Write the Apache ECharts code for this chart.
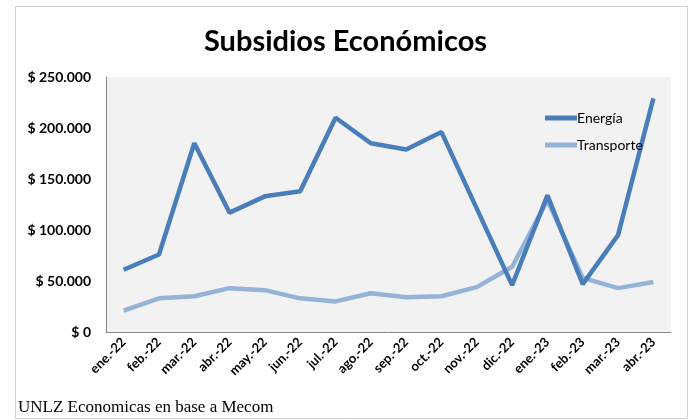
<!DOCTYPE html>
<html lang="es">
<head>
<meta charset="utf-8">
<style>
  html, body { margin: 0; padding: 0; width: 100%; height: 100%; overflow: hidden; background: #fff; }
  #container { width: 691px; height: 420px; }
</style>
<script src="https://cdn.jsdelivr.net/npm/echarts@6/dist/echarts.min.js"></script>
</head>
<body>
<div id="container"></div>
<script>
  // meses
  var months = ['ene.-22', 'feb.-22', 'mar.-22', 'abr.-22', 'may.-22', 'jun.-22', 'jul.-22', 'ago.-22',
    'sep.-22', 'oct.-22', 'nov.-22', 'dic.-22', 'ene.-23', 'feb.-23', 'mar.-23', 'abr.-23'];
  var energia = [61000, 76000, 185000, 117000, 133000, 138000, 210000, 185000,
    179000, 196000, 121000, 46000, 134000, 47000, 95000, 229000];
  var transporte = [21000, 33000, 35000, 43000, 41000, 33000, 30000, 38000,
    34000, 35000, 44000, 64000, 129000, 53000, 43000, 49000];

  var font = 'Lato, "Open Sans", sans-serif';

  function money(v) {
    if (v === 0) return '$ 0';
    return '$ ' + String(v).replace(/\B(?=(\d{3})+(?!\d))/g, '.');
  }

  var chart = echarts.init(document.getElementById('container'), null, { renderer: 'canvas' });

  var option = {
    backgroundColor: '#fff',
    animation: false,
    title: {
      text: 'Subsidios Económicos',
      left: 'center',
      top: 22,
      textStyle: { fontFamily: font, fontSize: 29, fontWeight: 'bold', color: '#000' }
    },
    graphic: [
      {
        type: 'rect',
        shape: { x: 15.5, y: 6.5, width: 672, height: 412 },
        style: { fill: null, stroke: '#d0d0d0', lineWidth: 1 },
        silent: true
      },
      {
        type: 'text',
        left: 18,
        top: 399,
        style: { text: 'UNLZ Economicas en base a Mecom', font: '17px "Liberation Serif", serif', fill: '#000' }
      }
    ],
    legend: {
      orient: 'vertical',
      left: 540,
      top: 106,
      itemWidth: 32,
      itemHeight: 5,
      itemGap: 13,
      icon: 'rect',
      textStyle: { fontFamily: font, fontSize: 14, color: '#000', padding: [0, 0, 0, -5] },
      data: ['Energía', 'Transporte']
    },
    grid: {
      left: 106,
      right: 20,
      top: 77,
      bottom: 88,
      show: true,
      backgroundColor: '#f2f2f2',
      borderWidth: 0
    },
    xAxis: {
      type: 'category',
      data: months,
      boundaryGap: true,
      axisLine: { lineStyle: { color: '#868686' } },
      axisTick: { show: false },
      axisLabel: {
        rotate: 45,
        interval: 0,
        margin: 8,
        fontFamily: font,
        fontSize: 13,
        fontWeight: 'bold',
        color: '#000'
      }
    },
    yAxis: {
      type: 'value',
      min: 0,
      max: 250000,
      interval: 50000,
      axisLine: { show: true, lineStyle: { color: '#868686' } },
      axisTick: { show: false },
      splitLine: { show: false },
      axisLabel: {
        formatter: money,
        margin: 15,
        fontFamily: font,
        fontSize: 14,
        fontWeight: 'bold',
        color: '#000'
      }
    },
    series: [
      {
        name: 'Energía',
        type: 'line',
        data: energia,
        symbol: 'none',
        color: '#4a7ebb',
        lineStyle: { width: 4.5, color: '#4a7ebb' },
        z: 3
      },
      {
        name: 'Transporte',
        type: 'line',
        data: transporte,
        symbol: 'none',
        color: '#95b3d7',
        lineStyle: { width: 4.5, color: '#95b3d7' },
        z: 2
      }
    ]
  };

  chart.setOption(option);
</script>
</body>
</html>
